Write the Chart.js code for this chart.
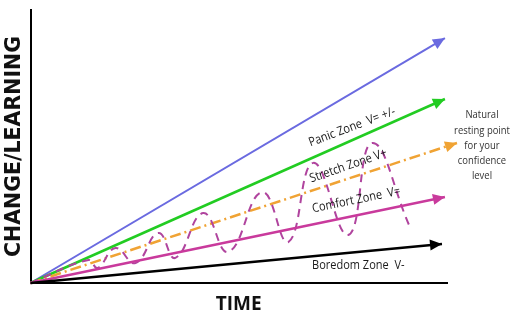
<!DOCTYPE html>
<html lang="en">
<head>
<meta charset="UTF-8">
<title>Change / Learning zones</title>
<script src="https://cdn.jsdelivr.net/npm/chart.js"></script>
<style>
    html, body { margin: 0; padding: 0; background: #fff; }
    #wrap { width: 512px; height: 314px; }
</style>
</head>
<body>
<div id="wrap"><canvas id="zones"></canvas></div>
<script>
    // end points of each zone line (all start at the origin)
    const panicEnd = [99.5, 89.7];
    const stretchEnd = [99.5, 67.4];
    const restingEnd = [102.4, 51.3];
    const comfortEnd = [99.5, 31.5];
    const boredomEnd = [98.8, 14.3];

    // wavy confidence line, peaks and troughs
    const waveX = [0, 13.9, 16.1, 20.4, 25.2, 30.7, 34.8, 41.5, 47.5, 55.6, 61.9, 67.9, 76.3, 82.0, 91.1];
    const waveY = [0, 8.4, 5.5, 12.8, 7.3, 18.3, 9.2, 25.6, 11.4, 33.3, 15.0, 44.0, 17.6, 51.3, 20.5];

    // zone labels: text, x, y, angle (deg)
    const zoneText = ['Panic Zone  V= +/-', 'Stretch Zone V+', 'Comfort Zone  V=', 'Boredom Zone  V-'];
    const zoneX = [77.2, 76.3, 78.2, 78.7];
    const zoneY = [57.1, 42.9, 30.4, 6.6];
    const zoneAngle = [-20.5, -19, -11.5, 0];

    const noteLines = ['Natural', 'resting point', 'for your', 'confidence', 'level'];
    const noteX = 108.4;
    const noteY = 61.5;

    function seg(end) {
        return [{ x: 0, y: 0 }, { x: end[0], y: end[1] }];
    }

    const arrowPlugin = {
        id: 'arrows',
        afterDatasetsDraw(chart) {
            const ctx = chart.ctx;
            chart.data.datasets.forEach((ds, i) => {
                if (!ds.arrow) return;
                const pts = chart.getDatasetMeta(i).data;
                const a = pts[pts.length - 2], b = pts[pts.length - 1];
                const ang = Math.atan2(b.y - a.y, b.x - a.x);
                ctx.save();
                ctx.translate(b.x, b.y);
                ctx.rotate(ang);
                ctx.beginPath();
                ctx.moveTo(0, 0);
                ctx.lineTo(-12, -5.5);
                ctx.lineTo(-12, 5.5);
                ctx.closePath();
                ctx.fillStyle = ds.borderColor;
                ctx.fill();
                ctx.restore();
            });
        }
    };

    const labelPlugin = {
        id: 'zoneLabels',
        afterDatasetsDraw(chart) {
            const ctx = chart.ctx;
            const xs = chart.scales.x, ys = chart.scales.y;
            ctx.save();
            ctx.fillStyle = '#1a1a1a';
            ctx.textAlign = 'center';
            ctx.textBaseline = 'middle';
            ctx.font = '12.5px "Open Sans", sans-serif';
            zoneText.forEach((t, i) => {
                ctx.save();
                ctx.translate(xs.getPixelForValue(zoneX[i]), ys.getPixelForValue(zoneY[i]));
                ctx.rotate(zoneAngle[i] * Math.PI / 180);
                ctx.scale(0.88, 1);
                ctx.fillText(t, 0, 0);
                ctx.restore();
            });
            // note next to the orange arrow
            ctx.fillStyle = '#333';
            ctx.font = '11px "Open Sans", sans-serif';
            const nx = xs.getPixelForValue(noteX);
            const ny = ys.getPixelForValue(noteY);
            noteLines.forEach((t, i) => {
                ctx.save();
                ctx.translate(nx, ny + i * 15.3);
                ctx.scale(0.86, 1);
                ctx.fillText(t, 0, 0);
                ctx.restore();
            });
            ctx.restore();
        }
    };

    const ctx = document.getElementById('zones').getContext('2d');
    new Chart(ctx, {
        type: 'line',
        data: {
            datasets: [
                {
                    data: seg(boredomEnd), borderColor: '#000000', borderWidth: 2.5, arrow: true
                },
                {
                    data: seg(comfortEnd), borderColor: '#c93a9c', borderWidth: 2.5, arrow: true
                },
                {
                    data: waveX.map((x, i) => ({ x: x, y: waveY[i] })),
                    borderColor: '#b0449e', borderWidth: 2, borderDash: [8, 6], tension: 0.45
                },
                {
                    data: seg(restingEnd), borderColor: '#f0a334', borderWidth: 2.5,
                    borderDash: [11, 4, 2, 4], arrow: true
                },
                {
                    data: seg(stretchEnd), borderColor: '#22cc22', borderWidth: 2.5, arrow: true
                },
                {
                    data: seg(panicEnd), borderColor: '#6a6ae0', borderWidth: 2, arrow: true
                }
            ]
        },
        options: {
            responsive: true,
            maintainAspectRatio: false,
            animation: false,
            layout: { padding: { top: 10, right: 65, left: 0, bottom: 0 } },
            elements: { point: { radius: 0, hoverRadius: 0 } },
            datasets: { line: { clip: false } },
            scales: {
                x: {
                    type: 'linear', min: 0, max: 100,
                    grid: { display: false, drawTicks: false },
                    border: { display: true, color: '#000', width: 2 },
                    ticks: { display: false },
                    title: {
                        display: true, text: 'TIME', color: '#111',
                        font: { family: '"Open Sans", sans-serif', size: 19, weight: 'bold', lineHeight: 1 },
                        padding: { top: 12, bottom: 0 }
                    }
                },
                y: {
                    type: 'linear', min: 0, max: 100,
                    grid: { display: false, drawTicks: false },
                    border: { display: true, color: '#000', width: 2 },
                    ticks: { display: false },
                    title: {
                        display: true, text: 'CHANGE/LEARNING', color: '#111',
                        font: { family: '"DejaVu Sans", sans-serif', size: 20.5, weight: 'bold', lineHeight: 1 },
                        padding: { top: 4, bottom: 6 }
                    }
                }
            },
            plugins: {
                legend: { display: false },
                tooltip: { enabled: false }
            }
        },
        plugins: [arrowPlugin, labelPlugin]
    });
</script>
</body>
</html>
